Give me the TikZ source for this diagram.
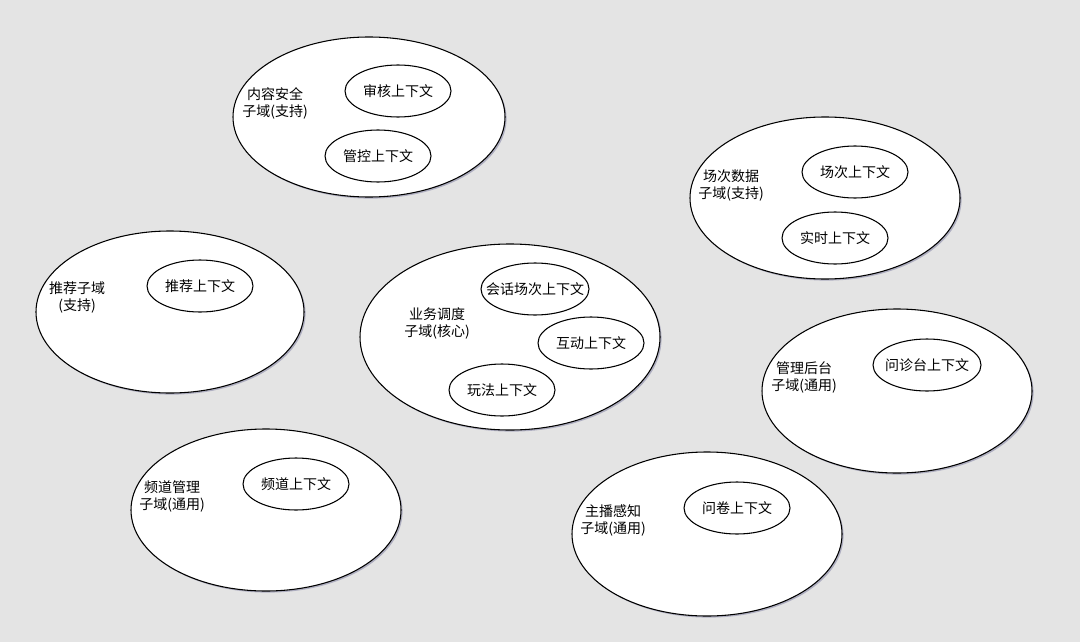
\documentclass[tikz,border=0pt]{standalone}
\usepackage{fontspec}
\setmainfont{Noto Sans CJK SC}
\usetikzlibrary{shapes.geometric,shadows}
\definecolor{bg}{RGB}{228,228,228}
\definecolor{shade}{RGB}{110,110,150}
\tikzset{
  x=0.75pt, y=-0.75pt,
  subdom/.style={ellipse, draw=black, line width=0.8pt, fill=white, inner sep=0pt,
    drop shadow={shadow xshift=1.2pt, shadow yshift=-1.2pt, fill=shade, opacity=0.45}},
  ctx/.style={ellipse, draw=black, line width=0.8pt, fill=white, inner sep=0pt,
    minimum width=79.5pt, minimum height=39pt, font=\fontsize{10.5pt}{12.75pt}\selectfont},
  lbl/.style={align=center, inner sep=0pt, font=\fontsize{10.5pt}{12.75pt}\selectfont},
}
\begin{document}
\begin{tikzpicture}
\fill[bg] (0,0) rectangle (1080,642);
\useasboundingbox (0,0) rectangle (1080,642);

% 内容安全子域
\node[subdom, minimum width=204pt, minimum height=120pt] (d1) at (369,117) {};
\node[lbl] (l1) at (275,103) {内容安全\\子域(支持)};
\node[ctx] (c11) at (398,91) {审核上下文};
\node[ctx] (c12) at (378,156) {管控上下文};

% 场次数据子域
\node[subdom, minimum width=202.5pt, minimum height=121.5pt] (d2) at (825,198) {};
\node[lbl] (l2) at (731,185) {场次数据\\子域(支持)};
\node[ctx] (c21) at (855,172) {场次上下文};
\node[ctx] (c22) at (835,238) {实时上下文};

% 推荐子域
\node[subdom, minimum width=201pt, minimum height=121.5pt] (d3) at (170,312) {};
\node[lbl] (l3) at (77,297) {推荐子域\\(支持)};
\node[ctx] (c31) at (200,286) {推荐上下文};

% 业务调度子域
\node[subdom, minimum width=225pt, minimum height=139.5pt] (d4) at (510,337) {};
\node[lbl] (l4) at (437,323) {业务调度\\子域(核心)};
\node[ctx, minimum width=81pt] (c41) at (535,289) {\makebox[0pt]{会话场次上下文}};
\node[ctx] (c42) at (591,343) {互动上下文};
\node[ctx] (c43) at (502,390) {玩法上下文};

% 管理后台子域
\node[subdom, minimum width=202.5pt, minimum height=123pt] (d5) at (897,391) {};
\node[lbl] (l5) at (804,377) {管理后台\\子域(通用)};
\node[ctx, minimum width=81pt] (c51) at (927,365) {\makebox[0pt]{问诊台上下文}};

% 频道管理子域
\node[subdom, minimum width=202.5pt, minimum height=121.5pt] (d6) at (266,510) {};
\node[lbl] (l6) at (172,496) {频道管理\\子域(通用)};
\node[ctx] (c61) at (296,484) {频道上下文};

% 主播感知子域
\node[subdom, minimum width=202.5pt, minimum height=123pt] (d7) at (707,534) {};
\node[lbl] (l7) at (613,520) {主播感知\\子域(通用)};
\node[ctx] (c71) at (737,508) {问卷上下文};
\end{tikzpicture}
\end{document}
